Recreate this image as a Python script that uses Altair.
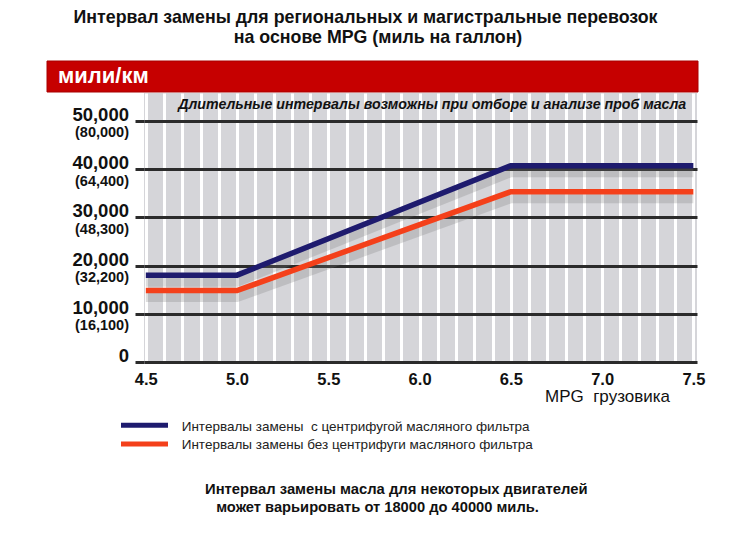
import altair as alt
import pandas as pd

# ---------------- data ----------------
mpg = [4.5, 5.0, 6.5, 7.5]
with_centrifuge = [18000, 18000, 40700, 40700]
without_centrifuge = [14800, 14800, 35300, 35300]
series_names = [
    "Интервалы замены\u00a0 с центрифугой масляного фильтра",
    "Интервалы замены без центрифуги масляного фильтра",
]
series_colors = ["#1e1b6e", "#f4401a"]

y_values = [0, 10000, 20000, 30000, 40000, 50000]
y_miles_labels = ["0", "10,000", "20,000", "30,000", "40,000", "50,000"]
y_km_labels = ["", "(16,100)", "(32,200)", "(48,300)", "(64,400)", "(80,000)"]

stripe_values = [4.5, 4.6, 4.7, 4.8, 4.9, 5.0, 5.1, 5.2, 5.3, 5.4, 5.5, 5.6,
                 5.7, 5.8, 5.9, 6.0, 6.1, 6.2, 6.3, 6.4, 6.5, 6.6, 6.7, 6.8,
                 6.9, 7.0, 7.1, 7.2, 7.3, 7.4, 7.5]

title_1 = "Интервал замены для региональных и магистральные перевозок"
title_2 = "на основе MPG (миль на галлон)"
band_label = "мили/км"
subtitle = "Длительные интервалы возможны при отборе и анализе проб масла"
x_title = "MPG\u00a0 грузовика"
note_1 = "Интервал замены масла для некоторых двигателей"
note_2 = "может варьировать от 18000 до 40000 миль."

# ---------------- tables ----------------
lines_df = pd.DataFrame({
    "mpg": mpg * 2,
    "miles": with_centrifuge + without_centrifuge,
    "series": [series_names[0]] * len(mpg) + [series_names[1]] * len(mpg),
})
ylab_df = pd.DataFrame({"v": y_values, "main": y_miles_labels, "km": y_km_labels})

SANS = "Liberation Sans, Arial, sans-serif"

W, H = 553, 269
LEFT, TOP = 144, 93

xscale = alt.Scale(domain=[4.49, 7.52], nice=False, zero=False)
yscale = alt.Scale(domain=[0, 55760], nice=False, zero=True)

x_enc = alt.X(
    "mpg:Q", scale=xscale, title=None,
    axis=alt.Axis(
        values=stripe_values, grid=True, gridColor="#ffffff", gridWidth=3,
        ticks=False, domain=False,
        labelExpr="abs(datum.value*2 - round(datum.value*2)) < 0.001 ? format(datum.value, '.1f') : ''",
        labelFont=SANS, labelFontSize=16.5, labelFontWeight="bold", labelColor="#111",
        labelPadding=9, labelFlush=False, labelOverlap=False,
    ),
)
y_enc = alt.Y(
    "miles:Q", scale=yscale, title=None,
    axis=alt.Axis(
        values=y_values, grid=True, gridColor="#2b2b2b", gridWidth=3,
        labels=False, ticks=True, tickSize=9, tickColor="#2b2b2b", tickWidth=3,
        domain=False,
    ),
)

color_enc = alt.Color("series:N", scale=alt.Scale(domain=series_names, range=series_colors), legend=None)

base = alt.Chart(lines_df)

shadow = base.mark_line(yOffset=7, strokeWidth=9, opacity=0.25, color="#777").encode(
    x=x_enc, y=y_enc, detail="series:N"
)
lines = base.mark_line(strokeWidth=5.5, strokeJoin="miter").encode(
    x=x_enc, y=y_enc, color=color_enc
)

ylab_main = alt.Chart(ylab_df).mark_text(
    align="right", baseline="alphabetic", font=SANS, fontSize=18.5,
    fontWeight="bold", color="#111"
).encode(x=alt.value(-15), y=alt.Y("v:Q", scale=yscale), text="main:N")

ylab_km = alt.Chart(ylab_df).mark_text(
    align="right", baseline="alphabetic", dy=16.5, font=SANS, fontSize=14.5,
    fontWeight="bold", color="#111"
).encode(x=alt.value(-15), y=alt.Y("v:Q", scale=yscale), text="km:N")


def label(txt, x, y, **kw):
    return alt.Chart(pd.DataFrame({"t": [txt]})).mark_text(**kw).encode(
        x=alt.value(x), y=alt.value(y), text="t:N"
    )


band = alt.Chart(pd.DataFrame({"t": [band_label]})).mark_rect(
    color="#c60000", stroke="#a80000", strokeWidth=1
).encode(x=alt.value(47 - LEFT), x2=alt.value(698 - LEFT),
         y=alt.value(61 - TOP), y2=alt.value(92 - TOP))

texts = [
    label(title_1, 365.5 - LEFT, 23.3 - TOP, align="center", baseline="alphabetic",
          font=SANS, fontSize=17.8, fontWeight="bold", color="#111"),
    label(title_2, 378 - LEFT, 43.3 - TOP, align="center", baseline="alphabetic",
          font=SANS, fontSize=17.8, fontWeight="bold", color="#111"),
    label(band_label, 58 - LEFT, 83.3 - TOP, align="left", baseline="alphabetic",
          font=SANS, fontSize=22, fontWeight="bold", color="#ffffff"),
    label(subtitle, 178.3 - LEFT, 108.7 - TOP, align="left", baseline="alphabetic",
          font=SANS, fontSize=14.2, fontWeight="bold", fontStyle="italic", color="#111"),
    label(x_title, 545 - LEFT, 401.7 - TOP, align="left", baseline="alphabetic",
          font=SANS, fontSize=17, color="#111"),
    label(series_names[0], 181.7 - LEFT, 427.3 - TOP, align="left", baseline="middle",
          font=SANS, fontSize=13.5, color="#222"),
    label(series_names[1], 181.7 - LEFT, 445 - TOP, align="left", baseline="middle",
          font=SANS, fontSize=13.5, color="#222"),
    label(note_1, 396.3 - LEFT, 494 - TOP, align="center", baseline="alphabetic",
          font=SANS, fontSize=14.8, fontWeight="bold", color="#111"),
    label(note_2, 377.5 - LEFT, 511.7 - TOP, align="center", baseline="alphabetic",
          font=SANS, fontSize=14.7, fontWeight="bold", color="#111"),
]

legend_rules = [
    alt.Chart(pd.DataFrame({"s": [series_names[i]]})).mark_rule(
        strokeWidth=5, color=series_colors[i]
    ).encode(x=alt.value(121 - LEFT), x2=alt.value(168 - LEFT), y=alt.value(yy - TOP))
    for i, yy in enumerate([425.3, 444])
]

chart = alt.layer(
    shadow, lines, ylab_main, ylab_km, band, *texts, *legend_rules
).properties(
    width=W, height=H,
    autosize=alt.AutoSizeParams(type="none"),
    padding={"left": LEFT, "top": TOP, "right": 756 - LEFT - W, "bottom": 546 - TOP - H},
    background="#ffffff",
).configure_view(fill="#d5d5d9", stroke=None)

chart.save("out.html", embed_options={"renderer": "svg", "actions": False})
